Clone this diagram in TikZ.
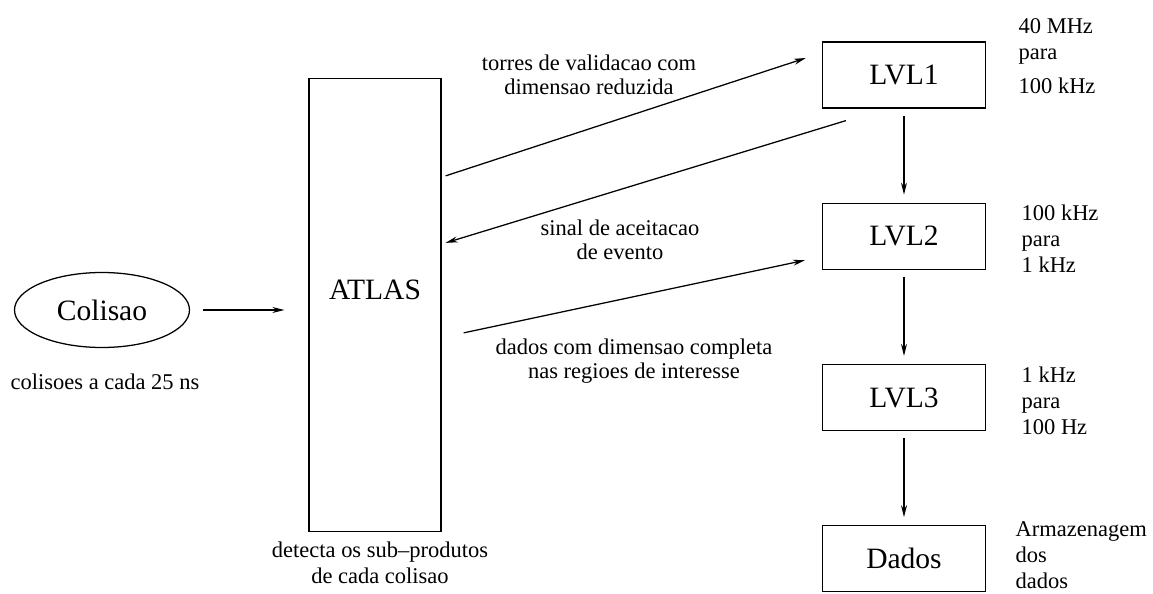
\documentclass[tikz,border=0pt]{standalone}
\usepackage{fontspec}
\setmainfont{Liberation Serif}
\usetikzlibrary{positioning,shapes.geometric,calc,arrows.meta}

\begin{document}
\begin{tikzpicture}[
    line width=0.9pt,
    >={Stealth[length=0.3cm, width=0.15cm]},
    node distance=2.35cm,
    box/.style={draw, minimum width=4.075cm, minimum height=1.65cm, font=\fontsize{21}{25}\selectfont},
    note/.style={inner sep=0pt, font=\fontsize{16}{18.5}\selectfont},
  ]
    % Frame
    \useasboundingbox (0,0) rectangle (28.825,14.825);

    % Collision
    \node[draw, ellipse, minimum width=4.375cm, minimum height=1.875cm, font=\fontsize{21}{25}\selectfont] (col) at (2.55,7.075) {Colisao};
    \node[note, anchor=north] (colnote) at (2.625,5.5) {colisoes a cada 25 ns};

    % Detector
    \node[box, minimum width=3.3cm, minimum height=11.325cm, text depth=0.75cm] (atlas) at (9.375,7.2) {ATLAS};
    \node[note, anchor=north, align=center] (atlasnote) at (9.5,1.3) {detecta os sub--produtos\\de cada colisao};

    % Trigger levels
    \node[box] (lvl1) at (22.6,12.95) {LVL1};
    \node[box, below=of lvl1] (lvl2) {LVL2};
    \node[box, below=of lvl2] (lvl3) {LVL3};
    \node[box, below=of lvl3] (dados) {Dados};

    % Rates
    \node[note, anchor=north west, align=left] (rate1) at (25.45,14.375) {40 MHz\\para\\[0.2cm]100 kHz};
    \node[note, anchor=north west, align=left] (rate2) at (25.525,9.725) {100 kHz\\para\\1 kHz};
    \node[note, anchor=north west, align=left] (rate3) at (25.525,5.675) {1 kHz\\para\\100 Hz};
    \node[note, anchor=north west, align=left] (store) at (25.375,1.8) {Armazenagem\\dos\\dados};

    % Arrow labels
    \node[note, anchor=north, align=center, font=\fontsize{16}{17}\selectfont] (lbl1) at (14.725,13.475) {torres de validacao com\\dimensao reduzida};
    \node[note, anchor=north, align=center, font=\fontsize{16}{17}\selectfont] (lbl2) at (15.5,9.35) {sinal de aceitacao\\de evento};
    \node[note, anchor=north, align=center, font=\fontsize{16}{17}\selectfont] (lbl3) at (15.85,6.375) {dados com dimensao completa\\nas regioes de interesse};

    % Ends of the slanted arrows
    \coordinate (up1a) at ($(atlas.north east)+(0.1,-2.45)$);
    \coordinate (up1b) at ($(lvl1.west)+(-0.4,0.425)$);
    \coordinate (back1a) at ($(lvl1.south west)+(0.6,-0.3)$);
    \coordinate (back1b) at ($(atlas.north east)+(0.1,-4.125)$);
    \coordinate (up2a) at ($(atlas.north east)+(0.55,-6.375)$);
    \coordinate (up2b) at ($(lvl2.west)+(-0.425,-0.6)$);

    % Arrows
    \draw[->, shorten <=0.325cm, shorten >=0.6cm] (col.east) -- (col.east -| atlas.west);
    \draw[->] (up1a) -- (up1b);
    \draw[->] (back1a) -- (back1b);
    \draw[->] (up2a) -- (up2b);
    \foreach \a/\b in {lvl1/lvl2, lvl2/lvl3, lvl3/dados}
        \draw[->, shorten <=0.175cm, shorten >=0.2cm] (\a) -- (\b);
\end{tikzpicture}
\end{document}
